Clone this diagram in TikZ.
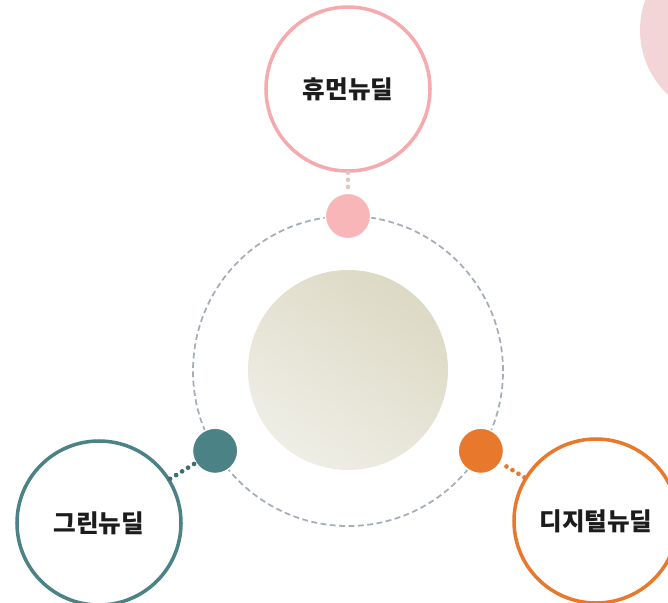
\documentclass[tikz,border=0pt]{standalone}
\usepackage{fontspec}
\usetikzlibrary{calc}
\newfontfamily\kr{Noto Sans CJK KR}
\definecolor{humanpink}{HTML}{F5AAAD}
\definecolor{humandot}{HTML}{F8B6B8}
\definecolor{greenteal}{HTML}{4A8285}
\definecolor{digitalorange}{HTML}{E8782C}
\definecolor{orbitgray}{HTML}{A5AEB8}
\definecolor{blushpink}{HTML}{F3D5D7}
\definecolor{textdark}{HTML}{1C1C1C}
\definecolor{coredark}{HTML}{DCD9C4}
\definecolor{corelight}{HTML}{EFEEE6}

\begin{document}
\begin{tikzpicture}[x=0.03cm, y=-0.03cm,
  deal/.style={circle, draw, line width=3pt, fill=white, minimum size=4.92cm,
    inner sep=0pt, font=\kr\bfseries\fontsize{21}{24}\selectfont, text=textdark},
  planet/.style={circle, draw=white, line width=1.2pt, minimum size=1.36cm, inner sep=0pt},
  link/.style={line width=4pt, dash pattern=on 0pt off 6pt, line cap=round}]
\useasboundingbox (0,0) rectangle (668,602);
\clip (0,0) rectangle (668,602);
% background blush at the corner
\fill[blushpink] (729,30) circle (89);
% orbit and core
\node[circle, draw=orbitgray, line width=1.5pt, dash pattern=on 5pt off 3pt,
  minimum size=9.3cm] (orbit) at (348,371) {};
\node[circle, minimum size=6cm, top color=coredark,
  bottom color=corelight, shading angle=-35] (core) at (348,370) {};
% three deals
\node[deal, draw=humanpink] (human) at (348,89) {휴먼뉴딜};
\node[deal, draw=greenteal] (green) at (99,523) {그린뉴딜};
\node[deal, draw=digitalorange] (digital) at (596,521) {디지털뉴딜};
\node[planet, fill=humandot] (humanP) at ($(orbit.center)+(-90:155)$) {};
\node[planet, fill=greenteal] (greenP) at ($(orbit.center)+(149:155)$) {};
\node[planet, fill=digitalorange] (digitalP) at ($(orbit.center)+(31:155)$) {};
\draw[link, draw=humanpink!70!gray!60] (human) -- (humanP);
\draw[link, draw=greenteal!85!black] (green) -- (greenP);
\draw[link, draw=digitalorange] (digital) -- (digitalP);
\end{tikzpicture}
\end{document}
